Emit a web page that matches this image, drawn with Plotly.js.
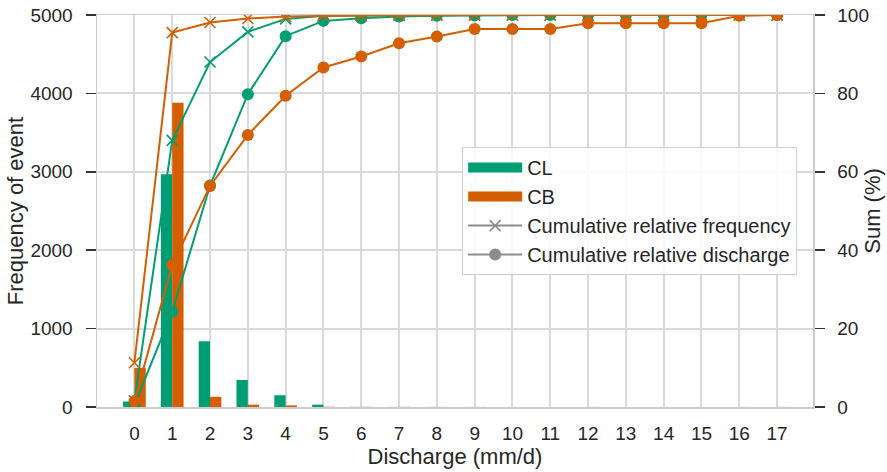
<!DOCTYPE html>
<html>
<head>
<meta charset="utf-8">
<script src="https://cdn.plot.ly/plotly-3.0.1.min.js"></script>
<style>
  html, body { margin: 0; padding: 0; background: #fff; }
  #chart { width: 887px; height: 472px; }
</style>
</head>
<body>
<div id="chart"></div>
<script>
// Discharge classes (mm/d)
const discharge = [0, 1, 2, 3, 4, 5, 6, 7, 8, 9, 10, 11, 12, 13, 14, 15, 16, 17];

// Number of events per discharge class
const freqCL = [70, 2970, 840, 345, 150, 30, 2, 1, 1, 1, 0, 0, 0, 0, 0, 0, 0, 0];
const freqCB = [500, 3880, 130, 30, 20, 3, 2, 2, 1, 1, 0, 0, 1, 0, 0, 0, 1, 1];

// Cumulative relative frequency (%)
const cumFreqCL = [1.6, 68.0, 88.0, 95.7, 99.0, 99.8, 99.9, 100, 100, 100, 100, 100, 100, 100, 100, 100, 100, 100];
const cumFreqCB = [11.3, 95.5, 98.1, 99.1, 99.6, 99.8, 99.9, 99.9, 100, 100, 100, 100, 100, 100, 100, 100, 100, 100];

// Cumulative relative discharge (%)
const cumDisCL = [0.5, 24.3, 56.5, 79.8, 94.6, 98.5, 99.2, 99.6, 99.8, 99.9, 100, 100, 100, 100, 100, 100, 100, 100];
const cumDisCB = [1.5, 36.2, 56.4, 69.4, 79.4, 86.6, 89.4, 92.8, 94.5, 96.4, 96.4, 96.4, 97.9, 97.9, 97.9, 97.9, 99.8, 100];

// Tick values of the two vertical scales
const leftTicks = [0, 1000, 2000, 3000, 4000, 5000];
const rightTicks = [0, 20, 40, 60, 80, 100];

const GREEN = '#029e73';
const ORANGE = '#d55e00';
const GREY = '#8c8c8c';
const GRID = '#dadada';
const SPINE = '#cccccc';
const TEXT = '#262626';
const FONT = 'Liberation Sans, Arial, Helvetica, sans-serif';

const traces = [
  // grouped bars on the left axis
  { type: 'bar', x: discharge, y: freqCL, name: 'CL', marker: { color: GREEN }, showlegend: false },
  { type: 'bar', x: discharge, y: freqCB, name: 'CB', marker: { color: ORANGE }, showlegend: false },

  // cumulative curves on the right axis
  { type: 'scatter', mode: 'lines+markers', x: discharge, y: cumFreqCL, yaxis: 'y2',
    line: { color: GREEN, width: 2 },
    marker: { symbol: 'x-thin-open', size: 11, line: { color: GREEN, width: 1.6 } }, showlegend: false },
  { type: 'scatter', mode: 'lines+markers', x: discharge, y: cumDisCL, yaxis: 'y2',
    line: { color: GREEN, width: 2 },
    marker: { symbol: 'circle', size: 12, color: GREEN }, showlegend: false },
  { type: 'scatter', mode: 'lines+markers', x: discharge, y: cumFreqCB, yaxis: 'y2',
    line: { color: ORANGE, width: 2 },
    marker: { symbol: 'x-thin-open', size: 11, line: { color: ORANGE, width: 1.6 } }, showlegend: false },
  { type: 'scatter', mode: 'lines+markers', x: discharge, y: cumDisCB, yaxis: 'y2',
    line: { color: ORANGE, width: 2 },
    marker: { symbol: 'circle', size: 12, color: ORANGE }, showlegend: false },

  // legend keys
  { type: 'scatter', mode: 'lines', x: [null], y: [null], name: 'CL', line: { color: GREEN, width: 16 } },
  { type: 'scatter', mode: 'lines', x: [null], y: [null], name: 'CB', line: { color: ORANGE, width: 16 } },
  { type: 'scatter', mode: 'lines+markers', x: [null], y: [null], name: 'Cumulative relative frequency',
    line: { color: GREY, width: 2 },
    marker: { symbol: 'x-thin-open', size: 11, line: { color: GREY, width: 1.6 } } },
  { type: 'scatter', mode: 'lines+markers', x: [null], y: [null], name: 'Cumulative relative discharge',
    line: { color: GREY, width: 2 },
    marker: { symbol: 'circle', size: 12, color: GREY } }
];

// Vertical scale: the major ticks are kept clear so their labels sit a little
// away from the spine, and the short dark marks are drawn as minor ticks.
const valueAxis = (range, vals, title, extra) => Object.assign({
  range: range,
  tickmode: 'array',
  tickvals: vals,
  ticks: 'outside',
  ticklen: 19,
  tickwidth: 1,
  tickcolor: 'rgba(255,255,255,0)',
  minor: {
    tickmode: 'array',
    tickvals: vals.map(v => v + (range[1] - range[0]) * 1e-6),
    ticks: 'outside',
    ticklen: 10,
    tickwidth: 1.5,
    tickcolor: '#333333',
    showgrid: false
  },
  zeroline: false,
  showline: true,
  linecolor: SPINE,
  linewidth: 1.5,
  tickfont: { size: 19, color: TEXT },
  title: { text: title, font: { size: 22, color: TEXT } },
  automargin: false
}, extra);

const layout = {
  width: 887,
  height: 472,
  margin: { l: 97, r: 74, t: 15, b: 65 },
  paper_bgcolor: '#ffffff',
  plot_bgcolor: '#ffffff',
  font: { family: FONT, size: 19, color: TEXT },
  barmode: 'group',
  bargap: 0.4,
  bargroupgap: 0,
  showlegend: true,
  xaxis: {
    range: [-0.99, 17.95],
    tickmode: 'array',
    tickvals: discharge,
    ticktext: discharge.map(String),
    ticks: '',
    ticklabelstandoff: 9,
    showgrid: true,
    gridcolor: GRID,
    gridwidth: 2,
    zeroline: false,
    showline: true,
    linecolor: SPINE,
    linewidth: 1.5,
    mirror: true,
    tickfont: { size: 19, color: TEXT },
    title: { text: 'Discharge (mm/d)', font: { size: 22, color: TEXT }, standoff: 4 },
    automargin: false
  },
  yaxis: valueAxis([0, 5000], leftTicks, 'Frequency of event',
    { showgrid: true, gridcolor: GRID, gridwidth: 2 }),
  yaxis2: valueAxis([0, 100], rightTicks, 'Sum (%)',
    { overlaying: 'y', side: 'right', showgrid: false }),
  legend: {
    x: 0.51,
    y: 0.663,
    xanchor: 'left',
    yanchor: 'top',
    bgcolor: 'rgba(255,255,255,0.85)',
    bordercolor: '#d0d0d0',
    borderwidth: 1,
    font: { family: FONT, size: 20, color: TEXT },
    itemwidth: 54,
    tracegroupgap: 0
  }
};

Plotly.newPlot('chart', traces, layout, { staticPlot: true, displayModeBar: false });
</script>
</body>
</html>
